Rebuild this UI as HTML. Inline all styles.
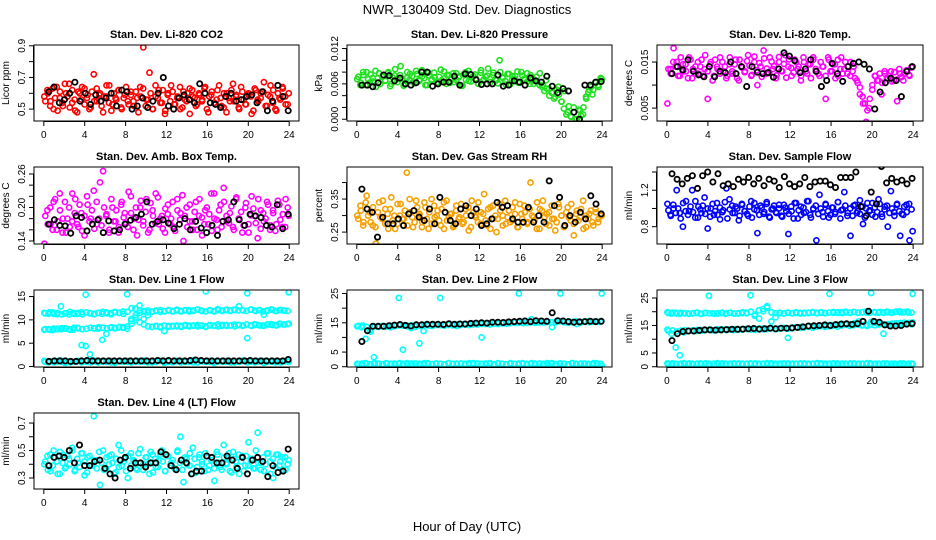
<!DOCTYPE html>
<html><head><meta charset="utf-8"><title>NWR_130409 Std. Dev. Diagnostics</title>
<style>
html,body{margin:0;padding:0;background:#fff;}
svg{display:block;font-family:"Liberation Sans",Arial,sans-serif;}
</style></head>
<body>
<svg id="chart" width="936" height="540" viewBox="0 0 936 540" xmlns="http://www.w3.org/2000/svg">
<rect x="0" y="0" width="936" height="540" fill="#fff"/>
<text x="467" y="14" font-size="13" text-anchor="middle">NWR_130409  Std. Dev. Diagnostics</text>
<text x="467" y="531" font-size="13" text-anchor="middle">Hour of Day (UTC)</text>
</svg>
<script>
// ---------- data ----------
const xTicks = [0,4,8,12,16,20,24];
const co2Main = [0.58,0.62,0.55,0.50,0.64,0.57,0.52,0.60,0.66,0.54,0.49,0.61,0.56,0.63,0.59,0.51,0.72,0.55,0.60,0.48,0.58,0.65,0.53,0.57,0.62,0.50,0.59,0.55,0.61,0.52,0.57,0.64,0.89,0.56,0.73,0.50,0.58,0.62,0.54,0.47,0.60,0.65,0.53,0.57,0.50,0.61,0.55,0.63,0.58,0.52,0.60,0.56,0.64,0.48,0.59,0.54,0.62,0.57,0.51,0.60,0.55,0.66,0.58,0.50,0.61,0.53,0.59,0.47,0.63,0.56,0.60,0.67,0.52,0.58,0.62,0.49,0.57,0.64,0.53,0.60];
const co2B = [0.55,0.60,0.52,0.63,0.57,0.49,0.61,0.54,0.66,0.58,0.51,0.62,0.56,0.48,0.60,0.64,0.53,0.57,0.50,0.61,0.55,0.63,0.59,0.52,0.58,0.65,0.54,0.49,0.60,0.56,0.62,0.51,0.57,0.64,0.53,0.59,0.55,0.61,0.48,0.58,0.63,0.52,0.56,0.60,0.50,0.65,0.57,0.54,0.62,0.49,0.59,0.55,0.61,0.53,0.58,0.64,0.51,0.56,0.60,0.47,0.62,0.57,0.53,0.59,0.55,0.63,0.50,0.58,0.61,0.54,0.56,0.65,0.52,0.60,0.48,0.57,0.62,0.55,0.59,0.51,0.64,0.56,0.53,0.60,0.58,0.49,0.62,0.55,0.57,0.61,0.52,0.59,0.65,0.54,0.50,0.60,0.56,0.63,0.58,0.53];
const co2Blk = [0.61,0.64,0.54,0.56,0.60,0.67,0.55,0.60,0.53,0.59,0.55,0.57,0.60,0.52,0.62,0.61,0.50,0.52,0.57,0.51,0.55,0.60,0.70,0.52,0.50,0.57,0.59,0.56,0.54,0.66,0.60,0.54,0.53,0.51,0.58,0.60,0.55,0.56,0.58,0.59,0.54,0.61,0.49,0.55,0.65,0.58,0.49];
const presMain = [0.0068,0.0058,0.0075,0.0080,0.0062,0.0070,0.0055,0.0078,0.0072,0.0065,0.0080,0.0060,0.0074,0.0068,0.0090,0.0057,0.0070,0.0077,0.0063,0.0082,0.0067,0.0073,0.0058,0.0079,0.0066,0.0071,0.0060,0.0084,0.0069,0.0075,0.0062,0.0078,0.0067,0.0073,0.0057,0.0080,0.0065,0.0071,0.0076,0.0061,0.0083,0.0068,0.0074,0.0063,0.0079,0.0066,0.0100,0.0071,0.0059,0.0077,0.0067,0.0073,0.0062,0.0080,0.0069,0.0064,0.0075,0.0060,0.0072,0.0078,0.0058,0.0066,0.0052,0.0045,0.0038,0.0055,0.0030,0.0048,0.0012,0.0005,0.0020,0.0000,0.0015,0.0008,0.0035,0.0050,0.0042,0.0062,0.0055,0.0068];
const presB = [0.0072,0.0062,0.0080,0.0058,0.0068,0.0076,0.0064,0.0082,0.0070,0.0060,0.0074,0.0066,0.0078,0.0056,0.0071,0.0085,0.0063,0.0075,0.0069,0.0059,0.0080,0.0067,0.0073,0.0061,0.0077,0.0065,0.0083,0.0070,0.0058,0.0074,0.0068,0.0079,0.0062,0.0072,0.0066,0.0081,0.0060,0.0075,0.0069,0.0063,0.0078,0.0071,0.0057,0.0076,0.0067,0.0082,0.0064,0.0073,0.0069,0.0060,0.0079,0.0066,0.0072,0.0086,0.0063,0.0075,0.0068,0.0061,0.0080,0.0070,0.0065,0.0077,0.0059,0.0073,0.0068,0.0081,0.0062,0.0074,0.0067,0.0078,0.0060,0.0071,0.0066,0.0063,0.0058,0.0055,0.0048,0.0052,0.0040,0.0045,0.0035,0.0050,0.0042,0.0030,0.0018,0.0008,0.0022,0.0004,0.0012,0.0000,0.0016,0.0006,0.0020,0.0038,0.0046,0.0055,0.0050,0.0062,0.0058,0.0070];
const presBlk = [0.0058,0.0058,0.0055,0.0062,0.0075,0.0074,0.0065,0.0070,0.0060,0.0058,0.0062,0.0080,0.0080,0.0056,0.0060,0.0063,0.0063,0.0073,0.0058,0.0077,0.0076,0.0067,0.0059,0.0060,0.0060,0.0075,0.0056,0.0058,0.0065,0.0063,0.0058,0.0070,0.0065,0.0063,0.0073,0.0056,0.0045,0.0052,0.0048,0.0012,0.0000,0.0058,0.0058,0.0063,0.0064];
const tempMain = [0.0060,0.0135,0.0180,0.0150,0.0120,0.0145,0.0130,0.0160,0.0115,0.0140,0.0125,0.0155,0.0135,0.0070,0.0150,0.0120,0.0140,0.0160,0.0130,0.0115,0.0145,0.0125,0.0155,0.0110,0.0140,0.0130,0.0165,0.0120,0.0150,0.0100,0.0140,0.0175,0.0125,0.0160,0.0135,0.0115,0.0150,0.0130,0.0165,0.0140,0.0120,0.0155,0.0135,0.0110,0.0150,0.0125,0.0145,0.0160,0.0130,0.0120,0.0140,0.0070,0.0155,0.0130,0.0145,0.0120,0.0160,0.0135,0.0125,0.0150,0.0140,0.0110,0.0080,0.0060,0.0020,0.0050,0.0100,0.0120,0.0110,0.0080,0.0125,0.0115,0.0130,0.0110,0.0065,0.0125,0.0110,0.0130,0.0120,0.0140];
const tempB = [0.0135,0.0125,0.0150,0.0140,0.0120,0.0160,0.0130,0.0145,0.0115,0.0155,0.0135,0.0125,0.0150,0.0140,0.0120,0.0165,0.0130,0.0145,0.0110,0.0155,0.0135,0.0125,0.0150,0.0140,0.0120,0.0160,0.0130,0.0145,0.0115,0.0155,0.0138,0.0128,0.0152,0.0142,0.0122,0.0162,0.0132,0.0148,0.0118,0.0158,0.0136,0.0126,0.0151,0.0141,0.0121,0.0161,0.0131,0.0146,0.0116,0.0156,0.0137,0.0127,0.0150,0.0140,0.0120,0.0160,0.0130,0.0145,0.0115,0.0155,0.0135,0.0125,0.0150,0.0140,0.0120,0.0160,0.0130,0.0145,0.0115,0.0155,0.0135,0.0125,0.0150,0.0140,0.0120,0.0130,0.0115,0.0105,0.0095,0.0075,0.0060,0.0045,0.0070,0.0090,0.0120,0.0110,0.0125,0.0105,0.0130,0.0115,0.0120,0.0108,0.0128,0.0112,0.0135,0.0118,0.0125,0.0132,0.0122,0.0138];
const tempBlk = [0.0125,0.0140,0.0133,0.0155,0.0130,0.0122,0.0118,0.0140,0.0118,0.0130,0.0127,0.0150,0.0125,0.0140,0.0097,0.0140,0.0128,0.0125,0.0127,0.0117,0.0135,0.0170,0.0163,0.0153,0.0127,0.0135,0.0155,0.0130,0.0097,0.0110,0.0147,0.0125,0.0108,0.0140,0.0147,0.0150,0.0145,0.0135,0.0048,0.0085,0.0105,0.0115,0.0110,0.0075,0.0130,0.0140];
const ambMain = [0.135,0.195,0.170,0.210,0.160,0.225,0.180,0.155,0.200,0.175,0.215,0.165,0.190,0.150,0.205,0.180,0.230,0.170,0.245,0.265,0.185,0.160,0.200,0.175,0.155,0.210,0.190,0.165,0.220,0.180,0.150,0.200,0.175,0.215,0.160,0.195,0.225,0.170,0.185,0.155,0.205,0.180,0.165,0.215,0.190,0.140,0.200,0.175,0.160,0.210,0.185,0.150,0.195,0.170,0.225,0.180,0.160,0.205,0.235,0.175,0.190,0.165,0.215,0.180,0.155,0.200,0.170,0.220,0.185,0.145,0.195,0.175,0.210,0.160,0.190,0.170,0.205,0.165,0.215,0.185];
const ambB = [0.185,0.170,0.200,0.160,0.215,0.175,0.195,0.155,0.210,0.180,0.165,0.225,0.190,0.170,0.205,0.158,0.185,0.220,0.175,0.195,0.162,0.210,0.180,0.168,0.200,0.188,0.155,0.215,0.175,0.195,0.165,0.205,0.182,0.172,0.228,0.190,0.160,0.200,0.178,0.212,0.168,0.192,0.155,0.208,0.185,0.172,0.218,0.180,0.162,0.198,0.188,0.170,0.210,0.158,0.195,0.178,0.222,0.185,0.165,0.205,0.175,0.192,0.160,0.215,0.182,0.170,0.200,0.188,0.158,0.225,0.178,0.195,0.165,0.210,0.185,0.172,0.202,0.160,0.218,0.180,0.192,0.168,0.208,0.155,0.186,0.198,0.172,0.215,0.162,0.190,0.180,0.205,0.168,0.195,0.158,0.212,0.178,0.188,0.165,0.200];
const ambBlk = [0.170,0.178,0.168,0.167,0.154,0.185,0.182,0.158,0.170,0.178,0.155,0.176,0.158,0.160,0.170,0.177,0.182,0.188,0.210,0.170,0.175,0.178,0.172,0.162,0.170,0.180,0.160,0.175,0.163,0.155,0.168,0.150,0.175,0.178,0.210,0.178,0.168,0.188,0.185,0.182,0.168,0.165,0.205,0.162,0.188];
const rhMain = [0.300,0.330,0.280,0.360,0.310,0.270,0.215,0.340,0.290,0.320,0.260,0.355,0.300,0.275,0.335,0.290,0.430,0.310,0.265,0.345,0.300,0.280,0.325,0.260,0.350,0.295,0.315,0.270,0.340,0.285,0.305,0.265,0.330,0.295,0.275,0.320,0.255,0.345,0.300,0.280,0.310,0.365,0.270,0.325,0.290,0.250,0.335,0.300,0.275,0.315,0.285,0.340,0.265,0.305,0.330,0.280,0.400,0.295,0.260,0.320,0.345,0.275,0.310,0.290,0.255,0.335,0.300,0.270,0.325,0.285,0.240,0.315,0.295,0.345,0.265,0.305,0.280,0.320,0.290,0.300];
const rhB = [0.290,0.315,0.270,0.340,0.300,0.280,0.325,0.265,0.310,0.295,0.345,0.275,0.305,0.320,0.285,0.260,0.335,0.300,0.290,0.315,0.270,0.350,0.295,0.280,0.325,0.305,0.265,0.340,0.290,0.310,0.275,0.330,0.300,0.285,0.320,0.260,0.345,0.295,0.305,0.270,0.315,0.290,0.335,0.280,0.300,0.325,0.265,0.310,0.295,0.340,0.275,0.305,0.285,0.320,0.260,0.330,0.300,0.290,0.315,0.270,0.345,0.295,0.280,0.325,0.305,0.265,0.335,0.290,0.310,0.275,0.320,0.300,0.285,0.340,0.260,0.315,0.295,0.305,0.270,0.330,0.290,0.280,0.325,0.300,0.265,0.310,0.295,0.335,0.275,0.305,0.285,0.320,0.260,0.300,0.290,0.315,0.270,0.310,0.280,0.300];
const rhBlk = [0.380,0.320,0.310,0.235,0.295,0.275,0.275,0.290,0.270,0.305,0.315,0.295,0.285,0.320,0.275,0.355,0.310,0.285,0.275,0.320,0.330,0.300,0.320,0.270,0.275,0.290,0.340,0.325,0.330,0.290,0.280,0.280,0.325,0.280,0.300,0.280,0.405,0.330,0.355,0.270,0.300,0.280,0.310,0.290,0.360,0.335,0.305];
const sampleMain = [1.05,0.93,1.00,1.20,0.95,0.80,1.08,0.97,1.20,0.90,1.02,0.95,1.12,0.78,1.00,0.93,1.06,0.88,0.98,1.22,1.10,0.95,1.02,0.87,1.05,0.97,0.92,1.08,0.99,0.73,1.03,0.94,1.07,0.90,1.00,0.96,1.04,0.91,1.01,0.72,0.97,1.06,0.89,1.02,0.95,1.08,0.93,1.00,0.65,1.15,0.96,1.04,0.90,1.01,0.94,1.07,0.98,1.18,0.92,0.70,1.03,0.95,1.09,0.83,1.00,0.97,1.06,0.91,1.10,0.94,1.02,0.80,1.19,0.96,1.05,0.70,0.93,1.04,0.65,0.75];
const sampleB = [0.98,0.92,1.04,0.95,1.00,0.89,1.06,0.97,0.93,1.02,0.96,1.08,0.90,0.99,1.03,0.94,1.00,0.91,1.05,0.97,0.93,1.01,0.96,1.07,0.89,0.99,1.03,0.95,1.00,0.92,1.04,0.97,0.94,1.02,0.90,1.06,0.98,0.93,1.01,0.96,1.05,0.91,0.99,1.03,0.95,1.00,0.92,1.04,0.97,0.94,1.02,0.89,1.06,0.98,0.93,1.01,0.96,1.08,0.90,0.99,1.03,0.94,1.00,0.91,1.05,0.97,0.93,1.01,0.96,1.07,0.89,0.99,1.03,0.95,1.00,0.92,1.04,0.97,0.94,1.02,0.90,1.06,0.98,0.93,1.01,0.96,1.05,0.91,0.99,1.03,0.95,1.00,0.92,1.04,0.97,0.94,1.02,0.96,1.05,0.99];
const sampleBlk = [1.38,1.32,1.27,1.33,1.36,1.22,1.36,1.40,1.29,1.38,1.25,1.27,1.24,1.32,1.29,1.34,1.27,1.33,1.25,1.32,1.30,1.23,1.35,1.27,1.24,1.27,1.34,1.24,1.29,1.30,1.30,1.26,1.23,1.34,1.34,1.34,1.40,1.02,0.92,1.18,1.05,1.46,1.28,1.33,1.29,1.31,1.27,1.33];
const line1Low = [1.2,0.9,1.1,1.0,1.3,0.8,1.1,1.0,1.2,0.9,1.1,1.0,1.3,0.9,1.1,1.0,1.2,0.8,1.1,1.0,1.2,0.9,1.1,1.0,1.3,0.9,1.1,1.0,1.2,0.8,1.1,1.0,1.2,0.9,1.1,1.0,1.3,0.9,1.1,1.0,1.2,0.8,1.1,1.0,1.2,0.9,1.1,1.0,1.3,0.9,1.1,1.0,1.2,0.8,1.1,1.0,1.2,0.9,1.1,1.0];
const line1LowB = [1.0,1.1,0.9,1.2,1.0,1.1,0.9,1.0,1.2,1.1,1.0,0.9,1.1,1.2,1.0,1.1,0.9,1.0,1.2,1.1,1.0,0.9,1.1,1.2,1.0,1.1,0.9,1.0,1.2,1.1,1.0,0.9,1.1,1.2,1.0,1.1,0.9,1.0,1.2,1.1,1.0,0.9,1.1,1.2,1.0,1.1,0.9,1.0,1.2,1.1,1.0,0.9,1.1,1.2,1.0,1.1,0.9,1.0,1.2,1.1];
const line1Mid = [7.9,8.0,7.8,8.1,8.0,8.2,8.0,7.9,8.3,4.6,4.4,2.6,8.2,8.1,5.7,7.0,8.3,8.2,8.4,8.3,8.1,9.8,10.5,9.5,10.2,11.0,8.5,8.6,8.4,7.6,8.5,8.7,8.6,8.5,8.7,8.6,8.8,8.6,8.7,8.5,8.8,8.7,8.6,8.9,8.7,8.8,8.6,8.9,8.8,6.1,8.7,8.9,8.8,8.7,9.0,8.9,8.8,9.1,9.0,9.2];
const line1MidB = [8.0,7.9,8.1,8.0,8.2,8.1,7.9,8.3,8.2,8.0,8.1,8.3,8.2,8.4,8.3,8.2,8.4,8.3,8.5,8.4,8.6,9.2,10.0,11.5,9.0,8.6,8.5,8.7,8.6,8.8,8.7,8.6,8.8,8.7,8.9,8.8,8.7,8.9,8.8,8.6,8.9,8.8,9.0,8.7,8.9,8.8,9.0,8.9,8.7,9.0,8.8,9.1,8.9,8.8,9.0,9.1,8.9,9.2,9.0,9.1];
const line1High = [11.5,11.3,11.6,11.2,12.9,11.4,11.2,11.5,11.3,11.6,15.4,11.4,11.2,11.5,11.3,11.6,11.4,11.7,11.5,11.8,15.5,10.2,12.4,13.1,11.9,11.6,11.8,12.0,11.7,11.9,12.1,11.8,12.0,11.9,12.1,11.8,12.0,12.2,11.9,16.1,12.0,11.8,12.1,11.9,12.2,12.0,12.1,12.9,12.0,15.7,12.2,11.9,12.1,11.1,12.0,12.2,11.9,12.1,12.0,15.9];
const line1HighB = [11.4,11.6,11.3,11.5,11.2,11.4,11.7,11.3,11.5,11.2,11.6,11.4,11.3,11.5,11.7,11.4,11.2,11.6,11.5,11.3,11.7,12.5,11.0,12.0,11.8,12.0,11.7,11.9,12.1,11.8,12.0,11.9,12.2,11.8,12.0,12.1,11.9,12.2,12.0,11.8,12.1,11.9,12.3,12.0,12.1,11.9,12.2,12.0,12.1,11.9,12.2,12.0,12.1,11.8,12.0,12.2,11.9,12.1,12.0,11.9];
const line1Blk = [1.1,1.2,1.2,1.2,1.1,1.1,1.2,1.3,1.2,1.2,1.2,1.2,1.2,1.2,1.2,1.2,1.2,1.2,1.2,1.2,1.3,1.2,1.3,1.2,1.2,1.2,1.3,1.4,1.3,1.2,1.2,1.2,1.2,1.2,1.2,1.2,1.2,1.3,1.2,1.2,1.2,1.2,1.2,1.2,1.5];
const line2Low = [1.0,0.8,1.2,0.9,1.1,1.0,0.8,1.2,0.9,1.1,1.0,0.8,1.2,0.9,1.1,1.0,0.8,1.2,0.9,1.1,1.0,0.8,1.2,0.9,1.1,1.0,0.8,1.2,0.9,1.1,1.0,0.8,1.2,0.9,1.1,1.0,0.8,1.2,0.9,1.1,1.0,0.8,1.2,0.9,1.1,1.0,0.8,1.2,0.9,1.1,1.0,0.8,1.2,0.9,1.1,1.0,0.8,1.2,0.9,0.3];
const line2LowB = [0.9,1.1,1.0,0.8,1.2,1.0,0.9,1.1,1.0,0.8,1.2,1.0,0.9,1.1,1.0,0.8,1.2,1.0,0.9,1.1,1.0,0.8,1.2,1.0,0.9,1.1,1.0,0.8,1.2,1.0,0.9,1.1,1.0,0.8,1.2,1.0,0.9,1.1,1.0,0.8,1.2,1.0,0.9,1.1,1.0,0.8,1.2,1.0,0.9,1.1,1.0,0.8,1.2,1.0,0.9,1.1,1.0,0.8,1.2,1.0];
const line2Mid = [13.8,13.5,9.5,12.5,3.2,13.6,13.8,13.7,13.5,13.9,23.5,5.8,14.0,13.2,13.6,8.0,12.2,14.1,13.9,14.2,23.5,14.0,14.2,14.1,13.9,14.3,14.4,14.2,14.5,14.4,10.0,14.6,14.5,14.7,14.6,14.8,14.7,14.9,15.0,25.0,14.9,15.1,16.2,15.0,15.2,15.1,15.3,13.5,15.2,25.0,15.2,15.0,15.3,14.6,15.1,15.3,15.2,15.4,15.3,25.0];
const line2MidB = [13.9,14.0,13.6,12.0,13.8,13.7,13.9,13.8,14.0,13.9,14.1,14.0,13.8,14.1,14.2,14.0,14.3,14.1,14.2,14.4,14.2,14.3,14.5,14.3,14.4,14.6,14.4,14.5,14.7,14.5,14.6,14.8,14.6,14.7,14.9,14.8,15.0,14.9,15.1,15.0,15.2,15.0,15.1,15.3,15.1,15.2,15.4,15.2,15.3,15.5,15.3,15.4,15.2,15.5,15.3,15.4,15.6,15.4,15.5,15.3];
const line2Blk = [8.6,12.3,13.8,13.8,13.8,14.0,14.2,14.4,14.1,13.9,14.3,14.3,14.5,14.5,14.5,14.4,14.7,14.5,14.6,14.6,14.8,14.9,15.0,14.9,15.2,15.2,15.1,15.3,15.4,15.5,15.6,15.4,15.7,15.6,15.5,18.4,15.7,15.6,15.4,15.2,15.3,15.4,15.5,15.4,15.5];
const line3Low = [1.2,0.9,1.1,1.0,1.3,0.9,1.1,1.0,1.2,0.9,1.1,1.0,1.3,0.9,1.1,1.0,1.2,0.9,1.1,1.0,1.2,0.9,1.1,1.0,1.3,0.9,1.1,1.0,1.2,0.9,1.1,1.0,1.2,0.9,1.1,1.0,1.3,0.9,1.1,1.0,1.2,0.9,1.1,1.0,1.2,0.9,1.1,1.0,1.3,0.9,1.1,1.0,1.2,0.9,1.1,1.0,1.2,0.9,1.1,1.0];
const line3LowB = [1.0,1.2,0.9,1.1,1.0,1.2,0.9,1.1,1.0,1.2,0.9,1.1,1.0,1.2,0.9,1.1,1.0,1.2,0.9,1.1,1.0,1.2,0.9,1.1,1.0,1.2,0.9,1.1,1.0,1.2,0.9,1.1,1.0,1.2,0.9,1.1,1.0,1.2,0.9,1.1,1.0,1.2,0.9,1.1,1.0,1.2,0.9,1.1,1.0,1.2,0.9,1.1,1.0,1.2,0.9,1.1,1.0,1.2,0.9,1.1];
const line3High = [19.8,19.3,19.6,19.2,19.5,19.4,19.3,19.6,19.2,19.5,25.8,19.4,19.3,19.5,19.2,19.6,19.4,19.3,19.5,19.6,26.0,18.5,20.5,21.0,22.0,16.5,18.0,19.5,19.3,19.6,19.4,19.5,19.3,19.6,19.5,19.7,19.4,19.6,19.5,26.5,19.6,19.8,19.5,19.7,19.6,19.9,19.7,19.8,19.6,26.8,19.7,19.9,19.6,19.8,19.7,20.0,19.8,19.9,19.7,26.5];
const line3HighB = [19.5,19.7,19.3,19.6,19.4,19.2,19.5,19.7,19.3,19.6,19.4,19.3,19.5,19.7,19.4,19.6,19.3,19.5,19.8,19.4,20.0,19.0,17.5,20.2,21.5,19.8,19.5,19.6,19.4,19.7,19.5,19.8,19.6,19.4,19.7,19.9,19.6,19.8,19.5,19.7,19.9,19.6,19.8,20.0,19.7,19.9,19.6,19.8,20.1,19.7,19.9,19.6,19.8,20.0,19.7,19.9,20.1,19.8,20.0,19.7];
const line3Mid = [13.5,12.0,7.0,4.2,12.5,13.0,13.2,13.0,13.4,13.3,13.5,13.2,13.6,13.4,13.5,13.6,13.3,13.7,13.5,13.8,13.6,13.4,13.8,13.9,13.7,14.0,13.8,13.9,14.1,10.5,14.0,14.3,14.5,14.4,14.6,14.8,14.7,14.9,15.0,15.2,15.1,15.3,15.6,15.4,15.5,15.8,16.5,15.2,14.8,16.3,16.0,15.8,12.0,15.5,15.7,15.8,15.9,16.0,15.9,16.1];
const line3MidB = [13.0,13.2,12.8,13.1,13.3,13.0,13.2,13.4,13.1,13.3,13.5,13.2,13.4,13.6,13.3,13.5,13.7,13.4,13.6,13.8,13.5,13.7,13.9,13.6,13.8,14.0,13.7,13.9,14.1,13.8,14.2,14.4,14.1,14.3,14.5,14.2,14.6,14.8,14.5,14.7,14.9,14.6,15.0,15.2,14.9,15.1,15.3,15.0,15.2,15.4,15.1,15.3,15.5,15.2,15.4,15.6,15.3,15.5,15.7,15.4];
const line3Blk = [9.5,12.0,12.8,13.0,13.0,13.2,13.4,13.4,13.3,13.4,13.5,13.6,13.6,13.7,13.8,13.9,13.7,13.8,14.0,13.8,14.0,14.0,14.1,14.3,14.5,14.8,14.9,15.0,15.2,15.0,15.3,15.5,15.6,15.4,15.7,16.5,20.2,16.5,16.2,15.2,14.8,14.8,15.0,15.5,15.7];
const line4Main = [0.40,0.46,0.35,0.50,0.42,0.33,0.47,0.38,0.44,0.52,0.36,0.41,0.48,0.32,0.45,0.39,0.75,0.43,0.25,0.50,0.37,0.46,0.41,0.34,0.54,0.39,0.44,0.30,0.48,0.42,0.36,0.51,0.40,0.45,0.33,0.47,0.38,0.43,0.50,0.35,0.46,0.41,0.37,0.49,0.60,0.27,0.44,0.39,0.52,0.34,0.45,0.40,0.48,0.36,0.43,0.28,0.47,0.38,0.54,0.41,0.35,0.49,0.42,0.33,0.46,0.39,0.56,0.44,0.37,0.63,0.41,0.35,0.48,0.42,0.30,0.47,0.39,0.45,0.36,0.43];
const line4B = [0.42,0.36,0.47,0.39,0.45,0.33,0.49,0.41,0.37,0.46,0.40,0.50,0.35,0.44,0.38,0.48,0.42,0.34,0.46,0.39,0.43,0.37,0.49,0.41,0.36,0.45,0.40,0.47,0.33,0.44,0.38,0.50,0.42,0.35,0.46,0.39,0.43,0.37,0.48,0.41,0.36,0.45,0.40,0.49,0.34,0.44,0.38,0.47,0.42,0.35,0.46,0.39,0.43,0.37,0.50,0.41,0.36,0.45,0.40,0.48,0.33,0.44,0.38,0.47,0.42,0.35,0.46,0.39,0.43,0.37,0.49,0.41,0.36,0.45,0.40,0.48,0.34,0.44,0.38,0.47,0.42,0.35,0.46,0.39,0.43,0.37,0.50,0.41,0.36,0.45,0.40,0.48,0.33,0.44,0.38,0.47,0.42,0.36,0.45,0.40];
const line4Blk = [0.39,0.45,0.46,0.45,0.50,0.41,0.54,0.39,0.39,0.42,0.43,0.37,0.33,0.30,0.43,0.45,0.37,0.41,0.41,0.38,0.41,0.41,0.49,0.47,0.39,0.36,0.43,0.41,0.33,0.35,0.35,0.46,0.45,0.41,0.41,0.46,0.43,0.37,0.45,0.33,0.43,0.45,0.42,0.31,0.39,0.34,0.35,0.51];

// ---------- layout ----------
const colL = [34,347,657], colR = [299,612,923];
const rowT = [45,167,290,413], rowB = [121,244,367,489];
const XMIN = -0.96, XMAX = 24.96;

const panels = [
 {key:'co2', title:'Stan. Dev. Li-820 CO2', ylab:'Licor ppm', c:0, r:0, ylim:[0.425,0.905], ticks:[0.5,0.6,0.7,0.8,0.9], labels:{'0.5':'0.5','0.7':'0.7','0.9':'0.9'}, series:[[co2Main,'#ff0000'],[co2B,'#ff0000'],[co2Blk,'#000000']]},
 {key:'pressure', title:'Stan. Dev. Li-820 Pressure', ylab:'kPa', c:1, r:0, ylim:[-0.0003,0.0126], ticks:[0,0.002,0.004,0.006,0.008,0.010,0.012], labels:{'0':'0.000','0.006':'0.006','0.012':'0.012'}, series:[[presMain,'#1fe01f'],[presB,'#1fe01f'],[presBlk,'#000000']]},
 {key:'temp', title:'Stan. Dev. Li-820 Temp.', ylab:'degrees C', c:2, r:0, ylim:[0.0022,0.0187], ticks:[0.005,0.010,0.015], labels:{'0.005':'0.005','0.015':'0.015'}, series:[[tempMain,'#ff00ff'],[tempB,'#ff00ff'],[tempBlk,'#000000']]},
 {key:'amb-box', title:'Stan. Dev. Amb. Box Temp.', ylab:'degrees C', c:0, r:1, ylim:[0.1346,0.2725], ticks:[0.14,0.16,0.18,0.20,0.22,0.24,0.26], labels:{'0.14':'0.14','0.2':'0.20','0.26':'0.26'}, series:[[ambMain,'#ff00ff'],[ambB,'#ff00ff'],[ambBlk,'#000000']]},
 {key:'rh', title:'Stan. Dev. Gas Stream RH', ylab:'percent', c:1, r:1, ylim:[0.214,0.447], ticks:[0.25,0.30,0.35,0.40], labels:{'0.25':'0.25','0.35':'0.35'}, series:[[rhMain,'#f5a000'],[rhB,'#f5a000'],[rhBlk,'#000000']]},
 {key:'sample-flow', title:'Stan. Dev. Sample Flow', ylab:'ml/min', c:2, r:1, ylim:[0.61,1.455], ticks:[0.8,1.0,1.2,1.4], labels:{'0.8':'0.8','1.2':'1.2'}, series:[[sampleMain,'#0000ff'],[sampleB,'#0000ff'],[sampleBlk,'#000000']]},
 {key:'line1', title:'Stan. Dev. Line 1 Flow', ylab:'ml/min', c:0, r:2, ylim:[-0.1,16.4], ticks:[0,5,10,15], labels:{'0':'0','5':'5','10':'10','15':'15'}, series:[[line1Low,'#00ffff'],[line1LowB,'#00ffff'],[line1Mid,'#00ffff'],[line1MidB,'#00ffff'],[line1High,'#00ffff'],[line1HighB,'#00ffff'],[line1Blk,'#000000']]},
 {key:'line2', title:'Stan. Dev. Line 2 Flow', ylab:'ml/min', c:1, r:2, ylim:[-0.1,26.2], ticks:[0,5,10,15,20,25], labels:{'0':'0','5':'5','15':'15','25':'25'}, series:[[line2Low,'#00ffff'],[line2LowB,'#00ffff'],[line2Mid,'#00ffff'],[line2MidB,'#00ffff'],[line2Blk,'#000000']]},
 {key:'line3', title:'Stan. Dev. Line 3 Flow', ylab:'ml/min', c:2, r:2, ylim:[-0.1,27.9], ticks:[0,5,10,15,20,25], labels:{'0':'0','5':'5','15':'15','25':'25'}, series:[[line3Low,'#00ffff'],[line3LowB,'#00ffff'],[line3High,'#00ffff'],[line3HighB,'#00ffff'],[line3Mid,'#00ffff'],[line3MidB,'#00ffff'],[line3Blk,'#000000']]},
 {key:'line4', title:'Stan. Dev. Line 4 (LT) Flow', ylab:'ml/min', c:0, r:3, ylim:[0.22,0.773], ticks:[0.3,0.4,0.5,0.6,0.7], labels:{'0.3':'0.3','0.5':'0.5','0.7':'0.7'}, series:[[line4Main,'#00ffff'],[line4B,'#00ffff'],[line4Blk,'#000000']]}
];

const NS = 'http://www.w3.org/2000/svg';
const svg = document.getElementById('chart');
function mk(tag, attrs, parent){
  const e = document.createElementNS(NS, tag);
  for (const k in attrs) e.setAttribute(k, attrs[k]);
  parent.appendChild(e);
  return e;
}

panels.forEach(p => {
  const L = colL[p.c], R = colR[p.c], T = rowT[p.r], B = rowB[p.r];
  const xs = v => L + (v - XMIN) / (XMAX - XMIN) * (R - L);
  const ys = v => B - (v - p.ylim[0]) / (p.ylim[1] - p.ylim[0]) * (B - T);
  const g = mk('g', {}, svg);
  
  

  const clipId = 'clip-' + p.key;
  const cp = mk('clipPath', {id: clipId}, g);
  mk('rect', {x: L, y: T, width: R - L, height: B - T}, cp);

  const pts = mk('g', {'clip-path': 'url(#' + clipId + ')'}, g);
  
  
  p.series.forEach((s, si) => {
    const data = s[0], color = s[1];
    const n = data.length;
    const isBlack = color === '#000000';
    const x0 = isBlack ? 0.5 : (si % 2 ? 0.15 : 0.05), x1 = isBlack ? 23.9 : (si % 2 ? 23.85 : 23.95);
    data.forEach((v, i) => {
      const hx = x0 + i * (x1 - x0) / (n - 1);
      const c = mk('circle', {cx: xs(hx).toFixed(1), cy: ys(v).toFixed(1), r: 2.6, fill: 'none', stroke: color, 'stroke-width': isBlack ? 1.8 : 1.6}, pts);
      
      
    });
  });

  const box = mk('rect', {x: L, y: T, width: R - L, height: B - T, fill: 'none', stroke: '#000', 'stroke-width': 1}, g);
  
  

  const t = mk('text', {x: (L + R) / 2, y: T - 7, 'font-size': 11, 'font-weight': 'bold', 'text-anchor': 'middle'}, g);
  t.textContent = p.title;
  
  

  const yl = mk('text', {x: 0, y: 0, 'font-size': 10, 'text-anchor': 'middle', transform: 'translate(' + (L - 25) + ',' + ((T + B) / 2) + ') rotate(-90)'}, g);
  yl.textContent = p.ylab;
  
  

  mk('line', {x1: xs(0), x2: xs(24), y1: B + 0.5, y2: B + 0.5, stroke: '#000'}, g);
  xTicks.forEach(v => {
    mk('line', {x1: xs(v), x2: xs(v), y1: B, y2: B + 5, stroke: '#000'}, g);
    const tl = mk('text', {x: xs(v), y: B + 17, 'font-size': 10, 'text-anchor': 'middle'}, g);
    tl.textContent = String(v);
    
    
  });

  const yt0 = p.ticks[0], yt1 = p.ticks[p.ticks.length - 1];
  mk('line', {x1: L - 0.5, x2: L - 0.5, y1: ys(yt0), y2: ys(yt1), stroke: '#000'}, g);
  p.ticks.forEach(v => {
    mk('line', {x1: L - 5, x2: L, y1: ys(v), y2: ys(v), stroke: '#000'}, g);
    const key = String(+v.toFixed(4));
    if (p.labels[key] !== undefined) {
      const tl = mk('text', {x: 0, y: 0, 'font-size': 10, 'text-anchor': 'middle', transform: 'translate(' + (L - 9) + ',' + ys(v) + ') rotate(-90)'}, g);
      tl.textContent = p.labels[key];
      
      
    }
  });
});
</script>
</body></html>
